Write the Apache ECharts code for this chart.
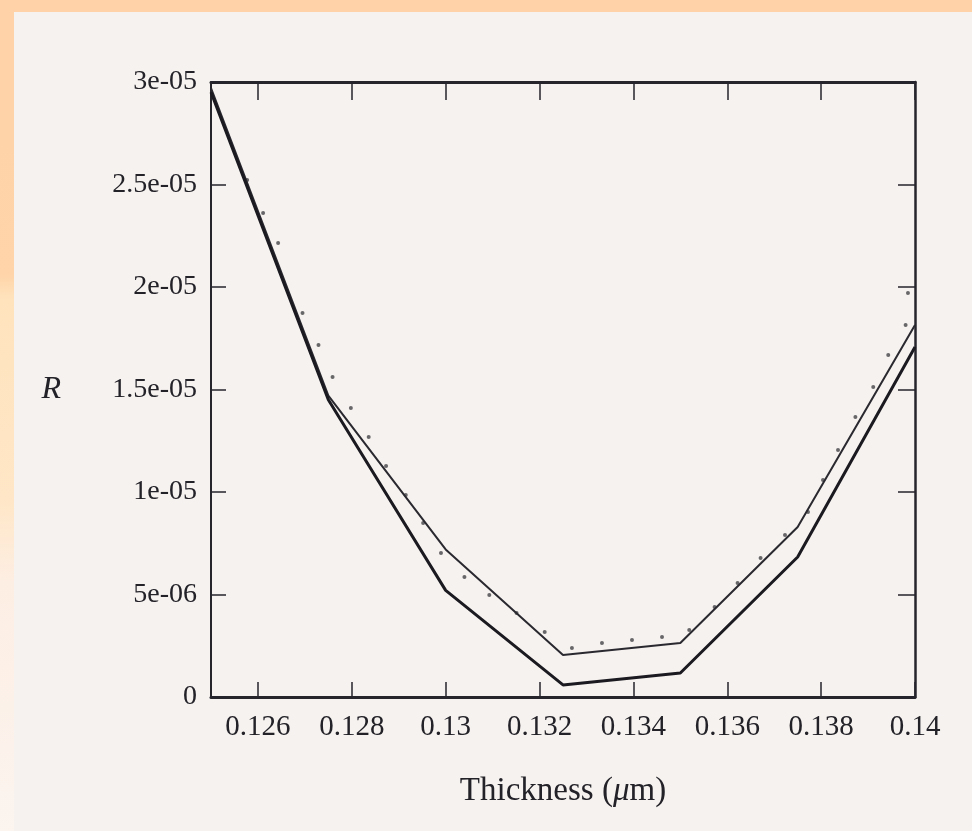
<!DOCTYPE html>
<html>
<head>
<meta charset="utf-8">
<script src="https://cdn.jsdelivr.net/npm/echarts@6/dist/echarts.min.js"></script>
<style>
  html, body { margin: 0; padding: 0; background: #fbf3ec; }
  #chart { width: 972px; height: 831px; }
</style>
</head>
<body>
<div id="chart"></div>
<script>
// sample points of the two model curves
const thickness = [0.125, 0.1275, 0.13, 0.1325, 0.135, 0.1375, 0.14]
const rLower = [2.95e-5, 1.45e-5, 5.2e-6, 5.9e-7, 1.17e-6, 6.83e-6, 1.707e-5]
const rUpper = [2.97e-5, 1.47e-5, 7.2e-6, 2.05e-6, 2.63e-6, 8.29e-6, 1.815e-5]

// measured points (small dots)
const dotX = [0.12577, 0.12611, 0.12643, 0.12695, 0.12729, 0.12759, 0.12798, 0.12836, 0.12873,
  0.12915, 0.12952, 0.1299, 0.1304, 0.13093, 0.13151, 0.13211, 0.13269, 0.13333, 0.13397,
  0.13461, 0.13519, 0.13573, 0.13622, 0.13671, 0.13723, 0.13772, 0.13804, 0.13836, 0.13873,
  0.13911, 0.13943, 0.1398, 0.13985]
const dotR = [2.522e-5, 2.361e-5, 2.215e-5, 1.873e-5, 1.717e-5, 1.561e-5, 1.41e-5, 1.268e-5, 1.127e-5,
  9.85e-6, 8.49e-6, 7.02e-6, 5.85e-6, 4.98e-6, 4.1e-6, 3.17e-6, 2.39e-6, 2.63e-6, 2.78e-6,
  2.93e-6, 3.27e-6, 4.39e-6, 5.56e-6, 6.78e-6, 7.9e-6, 9.02e-6, 1.059e-5, 1.205e-5, 1.366e-5,
  1.512e-5, 1.668e-5, 1.815e-5, 1.971e-5]

const xTicks = [0.126, 0.128, 0.13, 0.132, 0.134, 0.136, 0.138, 0.14]
const xTickLabels = ['0.126', '0.128', '0.13', '0.132', '0.134', '0.136', '0.138', '0.14']
const yTickLabels = ['0', '5e-06', '1e-05', '1.5e-05', '2e-05', '2.5e-05', '3e-05']

const pairs = (xs, ys) => xs.map((x, i) => [x, ys[i]])

const font = 'Liberation Serif'
const ink = '#26252c'
const textInk = '#232228'

const chart = echarts.init(document.getElementById('chart'))

const option = {
  animation: false,
  graphic: [
    {
      type: 'rect', z: -20, silent: true,
      shape: { x: 0, y: 0, width: 972, height: 831 },
      style: {
        fill: new echarts.graphic.LinearGradient(0, 0, 0, 1, [
          { offset: 0, color: '#ffd2a8' },
          { offset: 0.33, color: '#ffd4a8' },
          { offset: 0.36, color: '#ffe3bd' },
          { offset: 0.6, color: '#ffe6c6' },
          { offset: 0.7, color: '#fdeee3' },
          { offset: 1, color: '#fbf4ef' },
        ]),
      },
    },
    {
      type: 'rect', z: -19, silent: true,
      shape: { x: 14, y: 12, width: 958, height: 819 },
      style: { fill: '#f6f2ef' },
    },
  ],
  grid: { left: 211, right: 57, top: 82, bottom: 134 },
  xAxis: [
    {
      type: 'value', min: 0.125, max: 0.14, position: 'bottom',
      splitLine: { show: false },
      axisLine: { onZero: false, lineStyle: { color: ink, width: 3 } },
      axisTick: { inside: true, length: 15, customValues: xTicks, lineStyle: { color: ink, width: 1.5 } },
      axisLabel: {
        customValues: xTicks, margin: 16,
        color: textInk, fontFamily: font, fontSize: 29,
        formatter: v => xTickLabels[xTicks.findIndex(t => Math.abs(t - v) < 1e-7)],
      },
      name: 'Thickness ({i|μ}m)', nameLocation: 'middle', nameGap: 78,
      nameTextStyle: {
        color: textInk, fontFamily: font, fontSize: 33,
        rich: { i: { fontStyle: 'italic', fontFamily: font, fontSize: 33, color: textInk } },
      },
    },
    {
      type: 'value', min: 0.125, max: 0.14, position: 'top',
      splitLine: { show: false },
      axisLine: { onZero: false, lineStyle: { color: ink, width: 3 } },
      axisTick: { inside: true, length: 18, customValues: xTicks, lineStyle: { color: ink, width: 1.5 } },
      axisLabel: { show: false },
    },
  ],
  yAxis: [
    {
      type: 'value', min: 0, max: 3e-5, interval: 5e-6, position: 'left',
      splitLine: { show: false },
      axisLine: { onZero: false, lineStyle: { color: ink, width: 2 } },
      axisTick: { inside: true, length: 15, lineStyle: { color: ink, width: 1.5 } },
      axisLabel: {
        margin: 14, color: textInk, fontFamily: font, fontSize: 28,
        formatter: v => yTickLabels[Math.round(v / 5e-6)],
      },
      name: 'R', nameLocation: 'middle', nameRotate: 0, nameGap: 150,
      nameTextStyle: {
        color: textInk, fontFamily: font, fontSize: 32, fontStyle: 'italic',
        padding: [18, 0, 0, 0],
      },
    },
    {
      type: 'value', min: 0, max: 3e-5, interval: 5e-6, position: 'right',
      splitLine: { show: false },
      axisLine: { onZero: false, lineStyle: { color: ink, width: 2.5 } },
      axisTick: { inside: true, length: 17, lineStyle: { color: ink, width: 1.5 } },
      axisLabel: { show: false },
    },
  ],
  series: [
    {
      name: 'upper', type: 'line', data: pairs(thickness, rUpper),
      symbol: 'none', lineStyle: { color: '#2a2930', width: 2 },
    },
    {
      name: 'lower', type: 'line', data: pairs(thickness, rLower),
      symbol: 'none', lineStyle: { color: '#1b1a20', width: 3 },
    },
    {
      name: 'dots', type: 'scatter', data: pairs(dotX, dotR),
      symbol: 'circle', symbolSize: 4, itemStyle: { color: '#444246' },
    },
  ],
}

chart.setOption(option)
</script>
</body>
</html>
